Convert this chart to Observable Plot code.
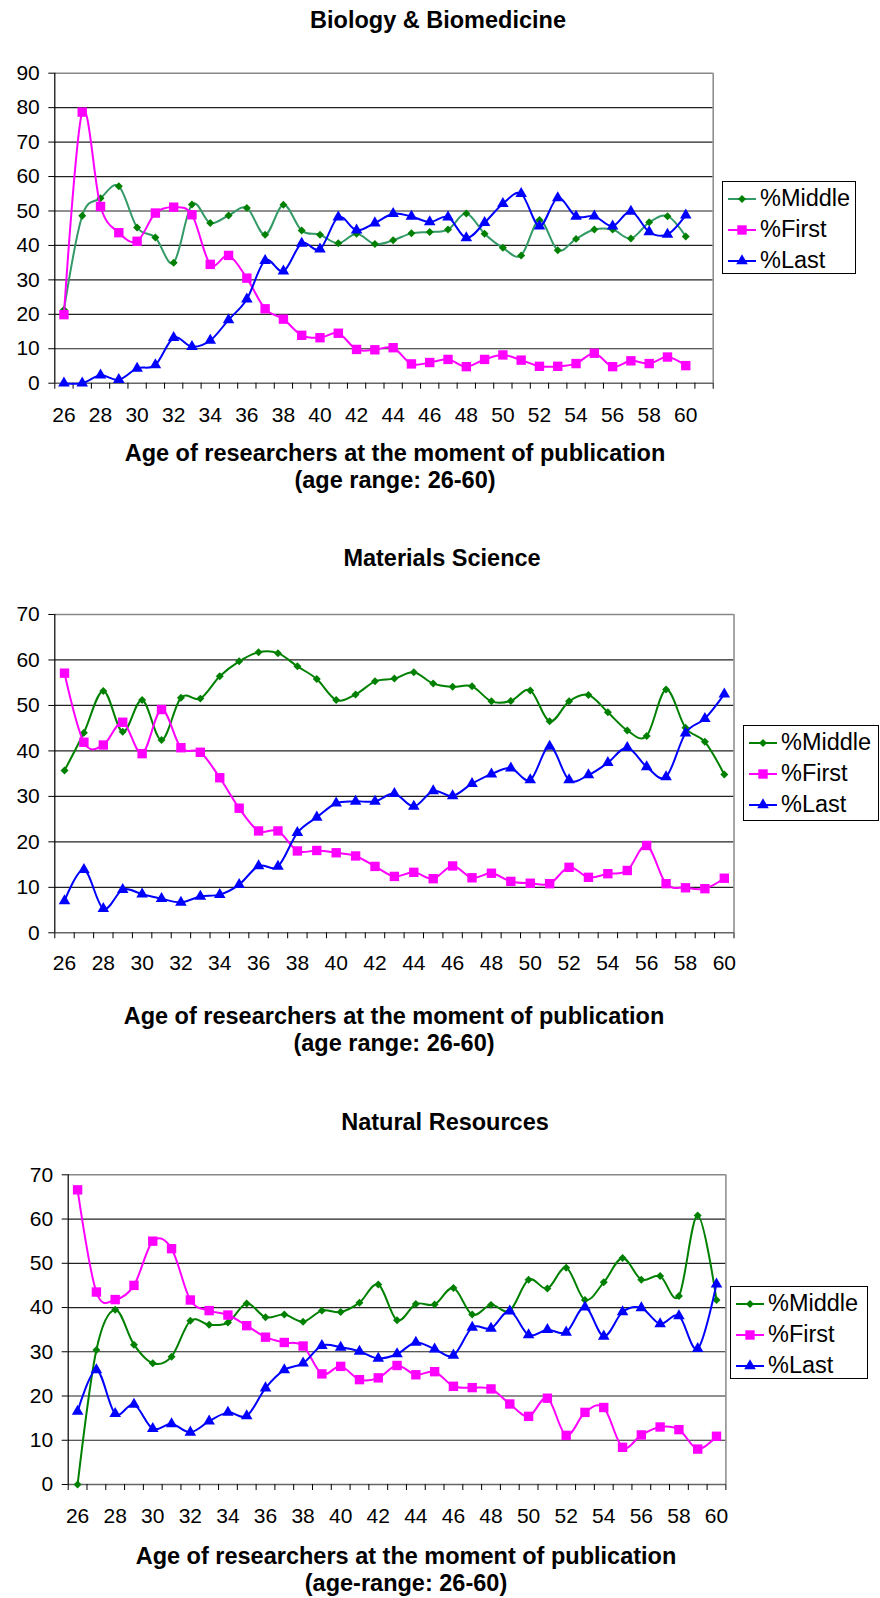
<!DOCTYPE html>
<html>
<head>
<meta charset="utf-8">
<script src="https://cdn.jsdelivr.net/npm/d3@7"></script>
<script src="https://cdn.jsdelivr.net/npm/@observablehq/plot@0.6"></script>
<style>
  html, body { margin: 0; padding: 0; background: #fff; }
  #page { position: relative; width: 880px; height: 1598px; overflow: hidden; font-family: "Liberation Sans", Arial, sans-serif; color: #000; }
  .ttl { position: absolute; font-weight: bold; font-size: 23.5px; white-space: nowrap; transform: translate(-50%, -50%); }
  .chart { position: absolute; left: 0; }
  .legend { position: absolute; border: 1px solid #000; background: #fff; box-sizing: border-box; padding-top: 1px; }
  .legend .row { height: 31px; display: flex; align-items: center; font-size: 23.5px; }
  .legend svg { margin-left: 5px; margin-right: 4px; }
</style>
</head>
<body>
<div id="page"></div>
<script>
// ---------- data ----------
const ages = [26,27,28,29,30,31,32,33,34,35,36,37,38,39,40,41,42,43,44,45,46,47,48,49,50,51,52,53,54,55,56,57,58,59,60];
const xTickLabels = [26,28,30,32,34,36,38,40,42,44,46,48,50,52,54,56,58,60];
const yTicks90 = [0,10,20,30,40,50,60,70,80,90];
const yTicks70 = [0,10,20,30,40,50,60,70];
const seriesNames = ["%Middle", "%First", "%Last"];

const bioMiddle = [21.3,48.6,53.7,57.2,45.2,42.3,35.0,51.9,46.5,48.7,50.9,43.1,51.8,44.3,43.1,40.6,43.4,40.4,41.5,43.5,43.9,44.6,49.3,43.4,39.3,37.1,47.4,38.6,41.9,44.6,44.6,42.0,46.7,48.5,42.6];
const bioFirst  = [19.9,78.7,51.3,43.7,41.2,49.4,51.1,48.9,34.5,37.1,30.5,21.6,18.6,13.9,13.2,14.5,9.8,9.7,10.3,5.6,6.0,6.9,4.8,6.9,8.2,6.7,4.9,4.9,5.7,8.7,4.8,6.5,5.7,7.6,5.1];
const bioLast   = [0,0,2.3,1.0,4.3,5.3,13.2,10.6,12.4,18.4,24.4,35.6,32.5,40.6,38.9,48.2,44.4,46.5,49.2,48.4,46.8,48.2,42.2,46.6,52.1,55.0,45.6,53.8,48.4,48.5,45.6,49.9,43.9,43.2,48.8];

const matMiddle = [35.7,44.0,53.2,44.2,51.2,42.4,51.7,51.5,56.4,59.7,61.7,61.5,58.6,55.8,51.2,52.4,55.3,55.9,57.3,54.8,54.1,54.2,50.9,51.0,53.3,46.5,50.9,52.3,48.5,44.5,43.3,53.5,45.1,42.0,34.8];
const matFirst  = [57.1,41.9,41.3,46.3,39.4,49.1,40.7,39.7,34.1,27.4,22.4,22.4,18.0,18.1,17.6,16.9,14.6,12.4,13.3,11.9,14.7,12.1,13.1,11.3,10.9,10.8,14.4,12.2,13.0,13.7,19.2,10.8,9.9,9.7,12.0];
const matLast   = [7.0,13.9,5.3,9.5,8.5,7.5,6.7,8.0,8.4,10.6,14.7,14.6,22.0,25.4,28.5,28.9,28.9,30.6,27.8,31.2,30.1,32.8,34.9,36.2,33.6,41.0,33.6,34.7,37.4,40.7,36.5,34.3,43.9,47.1,52.5];

const natMiddle = [0,30.4,39.5,31.6,27.4,28.9,37.0,36.1,36.6,40.9,37.8,38.4,36.8,39.3,39.0,41.1,45.2,37.1,40.8,40.7,44.4,38.4,40.6,39.3,46.3,44.3,49.0,41.7,45.7,51.2,46.3,47.1,42.6,60.8,41.7];
const natFirst  = [66.6,43.5,41.8,45.0,55.0,53.3,41.7,39.3,38.3,35.9,33.3,32.1,31.3,25.0,26.7,23.7,24.1,26.9,24.8,25.5,22.2,21.9,21.6,18.2,15.4,19.5,11.1,16.3,17.4,8.4,11.2,13.0,12.4,8.0,10.9];
const natLast   = [16.5,25.9,16.0,18.1,12.6,13.7,11.8,14.3,16.3,15.5,21.8,25.9,27.4,31.4,31.0,30.1,28.5,29.5,32.1,30.6,29.2,35.5,35.3,39.2,33.8,35.0,34.4,40.1,33.5,39.0,39.9,36.3,38.1,30.7,45.3];

const titles = ["Biology & Biomedicine", "Materials Science", "Natural Resources"];
const axisTitle1 = "Age of researchers at the moment of publication";
const axisTitle2 = ["(age range: 26-60)", "(age range: 26-60)", "(age-range: 26-60)"];

// ---------- styles ----------
const GREEN_MARK = "#008000";
const MAGENTA = "#ff00ff";
const BLUE = "#0000ff";
const FONT = "Liberation Sans, Arial, sans-serif";

const page = document.getElementById("page");

function addText(txt, cx, cy, size) {
  const d = document.createElement("div");
  d.className = "ttl";
  d.textContent = txt;
  d.style.left = cx + "px";
  d.style.top = cy + "px";
  if (size) d.style.fontSize = size + "px";
  page.appendChild(d);
}

function makePlot(cfg) {
  const rows = ages.map((a, i) => ({age: a, m: cfg.middle[i], f: cfg.first[i], l: cfg.last[i]}));
  const xMax = cfg.xMax;
  const yMax = cfg.yTicks[cfg.yTicks.length - 1];
  const boundaries = [];
  for (let a = 26; a <= xMax + 1; a++) boundaries.push(a - 0.5);
  const grid = cfg.yTicks.filter(v => v > 0 && v < yMax);
  const plot = Plot.plot({
    width: 880,
    height: cfg.height,
    marginLeft: cfg.mL,
    marginRight: 880 - cfg.plotRight,
    marginTop: cfg.mT,
    marginBottom: cfg.mB,
    x: {type: "linear", domain: [25.5, xMax + 0.5]},
    y: {domain: [0, yMax]},
    style: {fontFamily: FONT, fontSize: "21px", color: "#000", background: "transparent", overflow: "visible"},
    marks: [
      Plot.ruleY(grid, {stroke: "#222", strokeWidth: 1.2}),
      Plot.ruleY([yMax], {stroke: "#888", strokeWidth: 1.5}),
      Plot.ruleX([xMax + 0.5], {stroke: "#888", strokeWidth: 1.5}),
      Plot.ruleY([0], {stroke: "#666", strokeWidth: 1.5}),
      Plot.ruleX([25.5], {stroke: "#000", strokeWidth: 1.2}),
      Plot.axisY({ticks: cfg.yTicks, tickSize: 6, tickPadding: 9, label: null, fontSize: 21}),
      Plot.axisX({ticks: boundaries, tickSize: 6, tickFormat: () => "", label: null}),
      Plot.axisX({ticks: xTickLabels, tickSize: 0, tickPadding: cfg.xPad, label: null, fontSize: 21}),
      Plot.line(rows, {x: "age", y: "m", stroke: cfg.middleLine, strokeWidth: 2, curve: "cardinal"}),
      Plot.dot(rows, {x: "age", y: "m", symbol: "diamond2", fill: GREEN_MARK, stroke: "none", r: 3.6}),
      Plot.line(rows, {x: "age", y: "f", stroke: MAGENTA, strokeWidth: 2, curve: "cardinal"}),
      Plot.dot(rows, {x: "age", y: "f", symbol: "square", fill: MAGENTA, stroke: "none", r: 5.3}),
      Plot.line(rows, {x: "age", y: "l", stroke: BLUE, strokeWidth: 2, curve: "cardinal"}),
      Plot.dot(rows, {x: "age", y: "l", symbol: "triangle", fill: BLUE, stroke: "none", r: 4.3})
    ]
  });
  const wrap = document.createElement("div");
  wrap.className = "chart";
  wrap.style.top = cfg.top + "px";
  wrap.appendChild(plot);
  page.appendChild(wrap);
}

function makeLegend(left, top, w, h, middleLine) {
  const box = document.createElement("div");
  box.className = "legend";
  Object.assign(box.style, {left: left + "px", top: top + "px", width: w + "px", height: h + "px"});
  const items = [
    {line: middleLine, fill: GREEN_MARK, type: d3.symbolDiamond2, r: 3.6},
    {line: MAGENTA, fill: MAGENTA, type: d3.symbolSquare, r: 5.3},
    {line: BLUE, fill: BLUE, type: d3.symbolTriangle, r: 4.3}
  ];
  items.forEach((it, i) => {
    const row = document.createElement("div");
    row.className = "row";
    const svg = d3.create("svg").attr("width", 28).attr("height", 20);
    svg.append("line").attr("x1", 0).attr("x2", 28).attr("y1", 10).attr("y2", 10)
      .attr("stroke", it.line).attr("stroke-width", 2);
    svg.append("path").attr("transform", "translate(14,10)")
      .attr("d", d3.symbol(it.type, Math.PI * it.r * it.r)()).attr("fill", it.fill);
    row.appendChild(svg.node());
    const t = document.createElement("span");
    t.textContent = seriesNames[i];
    row.appendChild(t);
    box.appendChild(row);
  });
  page.appendChild(box);
}

// ---------- chart 1 ----------
addText(titles[0], 438, 20);
makePlot({middle: bioMiddle, first: bioFirst, last: bioLast, xMax: 61, yTicks: yTicks90,
  top: 40, height: 400, mT: 32.7, mB: 57.3, mL: 54.3, plotRight: 712.7, xPad: 23.5, middleLine: "#339966"});
makeLegend(722, 181, 134, 93, "#339966");
addText(axisTitle1, 395, 453);
addText(axisTitle2[0], 395, 480);

// ---------- chart 2 ----------
addText(titles[1], 442, 558);
makePlot({middle: matMiddle, first: matFirst, last: matLast, xMax: 60, yTicks: yTicks70,
  top: 580, height: 410, mT: 34, mB: 57.7, mL: 54.3, plotRight: 733.5, xPad: 22, middleLine: "#008000"});
makeLegend(743, 725, 136, 96, "#008000");
addText(axisTitle1, 394, 1016);
addText(axisTitle2[1], 394, 1043);

// ---------- chart 3 ----------
addText(titles[2], 445, 1122);
makePlot({middle: natMiddle, first: natFirst, last: natLast, xMax: 60, yTicks: yTicks70,
  top: 1140, height: 400, mT: 34.3, mB: 56, mL: 67.7, plotRight: 725.4, xPad: 23.5, middleLine: "#008000"});
makeLegend(730, 1286, 138, 93, "#008000");
addText(axisTitle1, 406, 1556);
addText(axisTitle2[2], 406, 1583);
</script>
</body>
</html>
